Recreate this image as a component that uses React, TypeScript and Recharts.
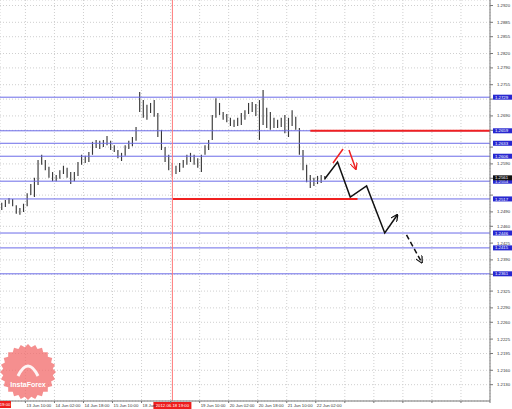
import { ComposedChart, Bar, Line, XAxis, YAxis, CartesianGrid, ReferenceLine } from 'recharts';

// 2-hour bars, hour 0 = 12 Jun 20:00 (weekend hours skipped)
const firstBarHour = 1;
const barStepHours = 2;

const barHigh = [
  1.2509, 1.2515, 1.2519, 1.2517, 1.2504, 1.2498, 1.2507, 1.2529, 1.2548, 1.2561,
  1.2598, 1.2609, 1.2598, 1.2584, 1.2573, 1.2567, 1.2577, 1.2586, 1.2582, 1.2573,
  1.2573, 1.2594, 1.2609, 1.2607, 1.2615, 1.2636, 1.2640, 1.2638, 1.2640, 1.2648,
  1.2638, 1.2629, 1.2619, 1.2613, 1.2629, 1.2638, 1.2646, 1.2667, 1.2740, 1.2723,
  1.2713, 1.2717, 1.2723, 1.2696, 1.2661, 1.2625, 1.2609, 1.2592, 1.2586, 1.2592,
  1.2598, 1.2609, 1.2613, 1.2609, 1.2602, 1.2609, 1.2629, 1.2640, 1.2692, 1.2727,
  1.2717, 1.2698, 1.2694, 1.2686, 1.2682, 1.2686, 1.2696, 1.2702, 1.2717, 1.2719,
  1.2715, 1.2723, 1.2744, 1.2707, 1.2698, 1.2686, 1.2682, 1.2686, 1.2692, 1.2686,
  1.2702, 1.2688, 1.2665, 1.2619, 1.2588, 1.2567, 1.2561, 1.2565, 1.2567, 1.2565,
];
const barLow = [
  1.2494, 1.2500, 1.2507, 1.2502, 1.2486, 1.2484, 1.2490, 1.2502, 1.2525, 1.2521,
  1.2546, 1.2588, 1.2577, 1.2561, 1.2554, 1.2554, 1.2559, 1.2569, 1.2561, 1.2548,
  1.2554, 1.2565, 1.2588, 1.2592, 1.2594, 1.2609, 1.2623, 1.2621, 1.2625, 1.2629,
  1.2619, 1.2615, 1.2602, 1.2596, 1.2607, 1.2621, 1.2627, 1.2638, 1.2698, 1.2686,
  1.2682, 1.2696, 1.2688, 1.2646, 1.2619, 1.2594, 1.2577, 1.2563, 1.2569, 1.2573,
  1.2582, 1.2588, 1.2594, 1.2588, 1.2582, 1.2573, 1.2609, 1.2619, 1.2640, 1.2686,
  1.2692, 1.2682, 1.2677, 1.2669, 1.2667, 1.2669, 1.2671, 1.2682, 1.2694, 1.2698,
  1.2690, 1.2640, 1.2671, 1.2665, 1.2661, 1.2665, 1.2665, 1.2667, 1.2654, 1.2646,
  1.2669, 1.2661, 1.2609, 1.2577, 1.2552, 1.2540, 1.2544, 1.2548, 1.2550, 1.2557,
];

const timeTicks = [14, 30, 46, 62, 78, 94, 110, 126, 142, 158, 174, 190, 206, 222, 238, 254, 270];
// the 18 Jun 18:00 label sits under the red line tag
const timeLabels = [
  '13 Jun 10:00', '14 Jun 02:00', '14 Jun 18:00', '15 Jun 10:00', '18 Jun', '',
  '19 Jun 10:00', '20 Jun 02:00', '20 Jun 18:00', '21 Jun 10:00', '22 Jun 02:00',
  '', '', '', '', '', '',
];

const priceTicks = [
  1.2920, 1.2885, 1.2855, 1.2820, 1.2790, 1.2755, 1.2725, 1.2690, 1.2660, 1.2625,
  1.2590, 1.2560, 1.2525, 1.2490, 1.2460, 1.2425, 1.2390, 1.2360, 1.2325, 1.2290,
  1.2260, 1.2225, 1.2195, 1.2160, 1.2130,
];

const levelPrices = [1.2729, 1.2659, 1.2633, 1.2606, 1.2554, 1.2517, 1.2446, 1.2415, 1.2361];
const currentPrice = 1.2561;

const redLevelPrices = [1.2659, 1.2517];
const redLevelFrom = [171, 95];
const redLevelTo = [270, 197];

const markerHour = 95;
const markerLabel = '2012.06.18 19:00';

const pathHours = [179, 186, 193, 202, 212, 219];
const pathPrices = [1.2559, 1.2594, 1.2521, 1.2544, 1.2446, 1.2484];
const dashHours = [224, 232.5];
const dashPrices = [1.2442, 1.2384];
const redUpHours = [183.5, 189];
const redUpPrices = [1.2592, 1.2621];
const redDownHours = [192.3, 196.1];
const redDownPrices = [1.2619, 1.2579];

const bars = barHigh.map((hi, i) => ({ h: firstBarHour + i * barStepHours, range: [barLow[i], hi] }));
const toPoints = (hs: number[], ps: number[]) => hs.map((h, i) => ({ h, p: ps[i] }));
const tagged = [...levelPrices, currentPrice];

const FONT = 'Liberation Sans, Arial, sans-serif';

function TimeTick(props: any) {
  const { x, y, payload } = props;
  const label = timeLabels[timeTicks.indexOf(payload.value)] || '';
  return (
    <text x={x + 1} y={y + 3.5} fontSize={4.3} fontFamily={FONT} fill="#333" textAnchor="start">
      {label}
    </text>
  );
}

function PriceTick(props: any) {
  const { x, y, payload } = props;
  // labels hidden under a level tag are not shown, as in the terminal
  if (tagged.some((p) => Math.abs(p - payload.value) < 0.0009)) return <g />;
  return (
    <text x={x} y={y + 1.5} fontSize={4.3} fontFamily={FONT} fill="#333" textAnchor="start">
      {payload.value.toFixed(4)}
    </text>
  );
}

const tag = (text: string, bg: string) => (props: any) => {
  const vb = props.viewBox;
  const right = vb.x + vb.width;
  return (
    <g>
      <rect x={right + 3} y={vb.y - 2.5} width={19} height={5} fill={bg} />
      <text x={right + 5} y={vb.y + 1.6} fontSize={4.3} fontFamily={FONT} fill="#fff">
        {text}
      </text>
    </g>
  );
};

const markerTag = (props: any) => {
  const vb = props.viewBox;
  const bottom = vb.y + vb.height;
  return (
    <g>
      <rect x={vb.x - 19} y={bottom + 1} width={38} height={7} fill="#ee1c1c" />
      <text x={vb.x} y={bottom + 6} fontSize={4.3} fontFamily={FONT} fill="#fff" textAnchor="middle">
        {markerLabel}
      </text>
    </g>
  );
};

function Watermark() {
  const pts: string[] = [];
  for (let k = 0; k < 48; k++) {
    const r = k % 2 === 0 ? 28 : 25;
    const a = (k / 48) * Math.PI * 2;
    pts.push(`${28 + r * Math.cos(a)},${30 + r * Math.sin(a)}`);
  }
  return (
    <svg width={60} height={70} style={{ position: 'absolute', left: 0, top: 342 }}>
      <polygon points={pts.join(' ')} fill="#f26a6a" opacity={0.75} />
      <path d="M18,34 Q28,14 38,34" stroke="#fff" strokeWidth={3} fill="none" opacity={0.9} />
      <text x={28} y={45} fontSize={7} fontFamily={FONT} fill="#fff" textAnchor="middle" fontWeight="bold">
        InstaForex
      </text>
    </svg>
  );
}

export default function App() {
  return (
    <div style={{ position: 'absolute', left: 0, top: 0, width: 512, height: 409, background: '#fff' }}>
      <ComposedChart width={512} height={409} data={bars} margin={{ top: 0, right: 0, bottom: 0, left: 0 }}>
        <defs>
          <marker id="ahBlack" viewBox="0 0 10 10" refX="9" refY="5" markerWidth="5" markerHeight="5" orient="auto">
            <path d="M0,0 L10,5 L0,10" fill="none" stroke="#111" strokeWidth={1.6} />
          </marker>
          <marker id="ahRed" viewBox="0 0 10 10" refX="9" refY="5" markerWidth="5" markerHeight="5" orient="auto">
            <path d="M0,0 L10,5 L0,10" fill="none" stroke="#ee2222" strokeWidth={1.6} />
          </marker>
        </defs>
        <CartesianGrid stroke="#cfcfcf" strokeDasharray="1 2" />
        <XAxis
          dataKey="h"
          type="number"
          domain={[0, 270]}
          ticks={timeTicks}
          interval={0}
          height={8}
          tickSize={2}
          tickMargin={0}
          tick={<TimeTick />}
          axisLine={{ stroke: '#777' }}
          tickLine={{ stroke: '#777' }}
          allowDataOverflow
        />
        <YAxis
          orientation="right"
          type="number"
          domain={[1.2096, 1.29315]}
          ticks={priceTicks}
          interval={0}
          width={22}
          tickSize={3}
          tickMargin={4}
          tick={<PriceTick />}
          axisLine={{ stroke: '#777' }}
          tickLine={{ stroke: '#777' }}
          allowDataOverflow
        />
        {levelPrices.map((p) => (
          <ReferenceLine key={p} y={p} stroke="#6b6be8" strokeWidth={1} label={tag(p.toFixed(4), '#2828d0')} />
        ))}
        {redLevelPrices.map((p, i) => (
          <ReferenceLine
            key={'r' + i}
            segment={[{ x: redLevelFrom[i], y: p }, { x: redLevelTo[i], y: p }]}
            stroke="#f02020"
            strokeWidth={2}
          />
        ))}
        <ReferenceLine y={currentPrice} stroke="none" label={tag(currentPrice.toFixed(4), '#111')} />
        <ReferenceLine x={markerHour} stroke="#ff7a7a" strokeWidth={1} label={markerTag} />
        <Bar dataKey="range" barSize={2.6} fill="#383838" isAnimationActive={false} />
        <Line
          data={toPoints(pathHours, pathPrices)}
          dataKey="p"
          type="linear"
          stroke="#111"
          strokeWidth={1.5}
          dot={false}
          activeDot={false}
          markerEnd="url(#ahBlack)"
          isAnimationActive={false}
        />
        <Line
          data={toPoints(dashHours, dashPrices)}
          dataKey="p"
          type="linear"
          stroke="#111"
          strokeWidth={1.5}
          strokeDasharray="5 3"
          dot={false}
          activeDot={false}
          markerEnd="url(#ahBlack)"
          isAnimationActive={false}
        />
        <Line
          data={toPoints(redUpHours, redUpPrices)}
          dataKey="p"
          type="linear"
          stroke="#ee2222"
          strokeWidth={1.5}
          dot={false}
          activeDot={false}
          isAnimationActive={false}
        />
        <Line
          data={toPoints(redDownHours, redDownPrices)}
          dataKey="p"
          type="linear"
          stroke="#ee2222"
          strokeWidth={1.5}
          dot={false}
          activeDot={false}
          markerEnd="url(#ahRed)"
          isAnimationActive={false}
        />
      </ComposedChart>
      <svg width={12} height={8} style={{ position: 'absolute', left: 0, top: 401 }}>
        <rect x={0} y={0} width={11} height={7} fill="#ee1c1c" />
        <text x={10.5} y={5} fontSize={4.3} fontFamily={FONT} fill="#fff" textAnchor="end">
          19:00
        </text>
      </svg>
      <Watermark />
    </div>
  );
}
